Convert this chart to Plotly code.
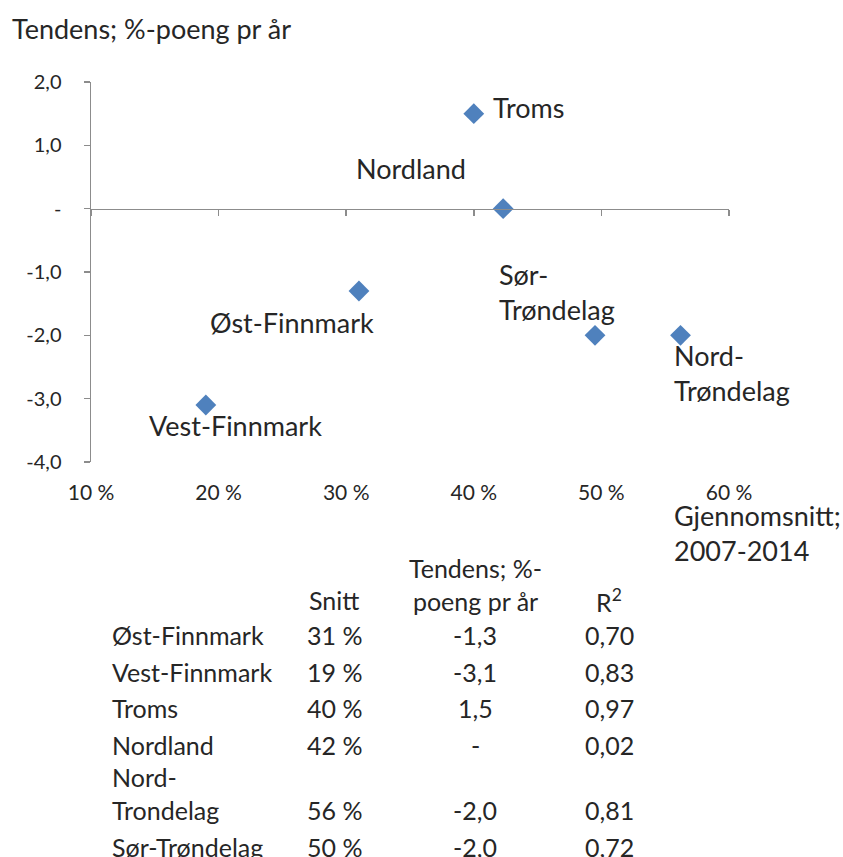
import plotly.graph_objects as go

# ---- data ----
regions = ["Troms", "Nordland", "Øst-Finnmark", "Vest-Finnmark", "Sør-<br>Trøndelag", "Nord-<br>Trøndelag"]
snitt_pct = [40.0, 42.3, 31.0, 19.0, 49.5, 56.2]
tendens = [1.5, 0.0, -1.3, -3.1, -2.0, -2.0]

y_tickvals = [2, 1, 0, -1, -2, -3, -4]
y_ticktext = ["2,0", "1,0", "-", "-1,0", "-2,0", "-3,0", "-4,0"]
x_tickvals = [10, 20, 30, 40, 50, 60]
x_ticktext = ["10 %", "20 %", "30 %", "40 %", "50 %", "60 %"]

table_names = ["Øst-Finnmark", "Vest-Finnmark", "Troms", "Nordland", "Nord-<br>Trondelag", "Sør-Trøndelag"]
table_snitt = ["31 %", "19 %", "40 %", "42 %", "56 %", "50 %"]
table_tendens = ["-1,3", "-3,1", "1,5", "-", "-2,0", "-2,0"]
table_r2 = ["0,70", "0,83", "0,97", "0,02", "0,81", "0,72"]

# ---- style ----
FONT = "Lato"
TXT = "#262626"
AX = "#8c8c8c"
BLUE = "#4F81BD"
W, H = 843, 857
L, R, T, B = 91, 729, 82, 462  # plot area in px
PW, PH = R - L, B - T

# label placement (xanchor, yanchor, xshift, yshift)
label_pos = [
    ("left", "middle", 17, 6),
    ("right", "middle", -35, 40),
    ("right", "middle", 17, -31),
    ("left", "middle", -59, -20),
    ("left", "middle", -98, 43),
    ("left", "middle", -9, -38),
]

fig = go.Figure()
fig.add_trace(go.Scatter(
    x=snitt_pct, y=tendens, mode="markers",
    marker=dict(symbol="diamond", size=16, color=BLUE),
    showlegend=False, hoverinfo="skip",
))
# axis line at y=0 drawn by a second x axis
fig.add_trace(go.Scatter(x=[x_tickvals[0], x_tickvals[-1]], y=[0, 0], xaxis="x2",
                         mode="lines", line=dict(width=0), showlegend=False, hoverinfo="skip"))

for name, xv, yv, (xa, ya, xs, ys) in zip(regions, snitt_pct, tendens, label_pos):
    fig.add_annotation(x=xv, y=yv, text=name, showarrow=False, xanchor=xa, yanchor=ya,
                       xshift=xs, yshift=ys, align="left",
                       font=dict(family=FONT, size=27, color=TXT))

def px2paper(px, py):
    return (px - L) / PW, (B - py) / PH

# title (y axis)
tx, ty = px2paper(10, 28)
fig.add_annotation(x=tx, y=ty, xref="paper", yref="paper", text="Tendens; %-poeng pr år",
                   showarrow=False, xanchor="left", yanchor="middle",
                   font=dict(family=FONT, size=27, color=TXT))
# x axis title
gx, gy = px2paper(672, 533)
fig.add_annotation(x=gx, y=gy, xref="paper", yref="paper", text="Gjennomsnitt;<br>2007-2014",
                   showarrow=False, xanchor="left", yanchor="middle", align="left",
                   font=dict(family=FONT, size=27, color=TXT))

# table
TF = dict(family=FONT, size=25, color=TXT)
col_name, col_snitt, col_tend, col_r2 = 110, 334, 475, 609
hx, hy = px2paper(col_tend, 584)
fig.add_annotation(x=hx, y=hy, xref="paper", yref="paper", text="Tendens; %-<br>poeng pr år",
                   showarrow=False, xanchor="center", yanchor="middle", font=TF)
for cx, txt in [(col_snitt, "Snitt"), (col_r2, "R<sup>2</sup>")]:
    ax_, ay_ = px2paper(cx, 600)
    fig.add_annotation(x=ax_, y=ay_, xref="paper", yref="paper", text=txt,
                       showarrow=False, xanchor="center", yanchor="middle", font=TF)

LINE_H = 1.3 * TF["size"]
row_y = 635
for i, (nm, s, t, r2) in enumerate(zip(table_names, table_snitt, table_tendens, table_r2)):
    extra = nm.count("<br>")
    row_y_c = row_y + extra * 29
    nx, ny = px2paper(col_name, row_y_c - extra * LINE_H / 2)
    fig.add_annotation(x=nx, y=ny, xref="paper", yref="paper", text=nm, showarrow=False,
                       xanchor="left", yanchor="middle", align="left", font=TF)
    for cx, v in [(col_snitt, s), (col_tend, t), (col_r2, r2)]:
        vx, vy = px2paper(cx, row_y_c)
        fig.add_annotation(x=vx, y=vy, xref="paper", yref="paper", text=v, showarrow=False,
                           xanchor="center", yanchor="middle", font=TF)
    row_y = row_y_c + 36.5

fig.update_layout(
    width=W, height=H,
    margin=dict(l=L, r=W - R, t=T, b=H - B),
    paper_bgcolor="white", plot_bgcolor="white",
    xaxis=dict(range=[10, 60], tickvals=x_tickvals, ticktext=x_ticktext,
               showgrid=False, zeroline=False, showline=False, ticks="",
               ticklabelstandoff=16, tickfont=dict(family=FONT, size=21, color=TXT)),
    xaxis2=dict(range=[10, 60], overlaying="x", anchor="free", position=4 / 6,
                side="bottom", tickvals=x_tickvals, showticklabels=False,
                showgrid=False, zeroline=False, showline=True, linecolor=AX, linewidth=1.5,
                ticks="outside", ticklen=6, tickcolor=AX, tickwidth=1.5),
    yaxis=dict(range=[-4, 2], tickvals=y_tickvals, ticktext=y_ticktext,
               showgrid=False, zeroline=False, showline=True, linecolor=AX, linewidth=1.5,
               ticks="outside", ticklen=6, tickcolor=AX, tickwidth=1.5,
               ticklabelstandoff=18, tickfont=dict(family=FONT, size=20, color=TXT)),
)

fig.write_html(
    "out.html",
    config={"displayModeBar": False, "staticPlot": True},
    post_script="document.body.style.margin='0';document.body.style.overflow='hidden';",
)
